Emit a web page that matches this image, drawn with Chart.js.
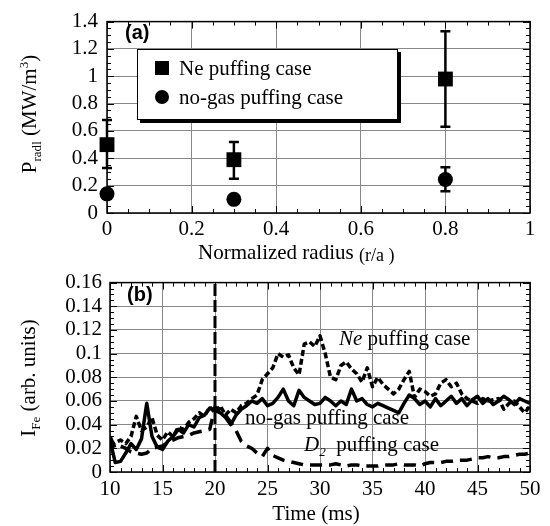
<!DOCTYPE html>
<html>
<head>
<meta charset="utf-8">
<script src="https://cdn.jsdelivr.net/npm/chart.js@4.4.0/dist/chart.umd.min.js"></script>
<style>
  html, body { margin: 0; padding: 0; background: #fff; }
  #wrap { position: relative; width: 550px; height: 526px; overflow: hidden;
          font-family: "Liberation Serif", "Times New Roman", serif; color: #000; }
  canvas { position: absolute; left: 0; }
  .lbl { position: absolute; white-space: nowrap; line-height: 1; font-size: 21px;
         font-family: "Liberation Serif", "Times New Roman", serif; }
  .tag { position: absolute; font-family: "Liberation Sans", Arial, sans-serif;
         font-weight: bold; font-size: 20px; line-height: 1; }
  .ytitle { position: absolute; white-space: nowrap; line-height: 1; font-size: 21px;
            font-family: "Liberation Serif", "Times New Roman", serif;
            transform: translate(-50%, -50%) rotate(-90deg); }
  sub, sup { font-size: 0.62em; line-height: 0; }
  #legend { position: absolute; left: 137px; top: 49px; width: 259px; height: 69px;
            border: 1.5px solid #000; background: #fff; box-shadow: 3px 3px 0 #000; }
  #legend .mk { position: absolute; background: #000; }
</style>
</head>
<body>
<div id="wrap">
  <canvas id="chartA" width="550" height="262" style="top:0"></canvas>
  <canvas id="chartB" width="550" height="264" style="top:262px"></canvas>

  <!-- panel (a) texts -->
  <div class="tag" style="left:125px; top:22px;">(a)</div>
  <div id="legend">
    <div class="mk" style="left:17px; top:11px; width:14px; height:14px;"></div>
    <div class="lbl" style="left:41px; top:8px;">Ne puffing case</div>
    <div class="mk" style="left:17px; top:40px; width:14px; height:14px; border-radius:50%;"></div>
    <div class="lbl" style="left:41px; top:37px;">no-gas puffing case</div>
  </div>
  <div class="ytitle" style="left:29px; top:114px;">P<sub>radl</sub> (MW/m<sup>3</sup>)</div>
  <div class="lbl" style="left:198px; top:242px;">Normalized radius <span style="font-size:18px; position:relative; top:2px;">(r/a )</span></div>

  <!-- panel (b) texts -->
  <div class="tag" style="left:127px; top:284px;">(b)</div>
  <div class="lbl" style="left:339px; top:328px;"><i>Ne</i> puffing case</div>
  <div class="lbl" style="left:245px; top:407px;">no-gas puffing case</div>
  <div class="lbl" style="left:304px; top:434px;"><i>D<sub>2</sub></i>&nbsp; puffing case</div>
  <div class="ytitle" style="left:28px; top:378px;">I<sub>Fe</sub> (arb. units)</div>
  <div class="lbl" style="left:316px; top:503px; transform:translateX(-50%);">Time (ms)</div>
</div>

<script>
// panel (a): radiated power vs normalized radius
const radius = [0, 0.3, 0.8];
const neRad = [0.50, 0.39, 0.98];
const neRadHigh = [0.68, 0.52, 1.33];
const neRadLow = [0.33, 0.25, 0.63];
const noGasRad = [0.14, 0.10, 0.245];
const noGasRadHigh = [null, null, 0.335];
const noGasRadLow = [null, null, 0.16];

// panel (b): Fe line intensity vs time
const timeMs = [
  10, 10.5, 11, 11.5, 12, 12.5, 13, 13.5, 14, 14.5,
  15, 15.5, 16, 16.5, 17, 17.5, 18, 18.5, 19, 19.5,
  20, 20.5, 21, 21.5, 22, 22.5, 23, 23.5, 24, 24.5,
  25, 25.5, 26, 26.5, 27, 27.5, 28, 28.5, 29, 29.5,
  30, 30.5, 31, 31.5, 32, 32.5, 33, 33.5, 34, 34.5,
  35, 35.5, 36, 36.5, 37, 37.5, 38, 38.5, 39, 39.5,
  40, 40.5, 41, 41.5, 42, 42.5, 43, 43.5, 44, 44.5,
  45, 45.5, 46, 46.5, 47, 47.5, 48, 48.5, 49, 49.5,
  50
];
const neFe = [
  0.022, 0.025, 0.027, 0.024, 0.030, 0.047, 0.035, 0.038, 0.046, 0.031,
  0.027, 0.034, 0.030, 0.038, 0.036, 0.042, 0.045, 0.050, 0.047, 0.055,
  0.050, 0.056, 0.048, 0.053, 0.050, 0.056, 0.058, 0.062, 0.065, 0.078,
  0.083, 0.088, 0.100, 0.097, 0.099, 0.088, 0.082, 0.108, 0.110, 0.106,
  0.115, 0.100, 0.080, 0.078, 0.090, 0.093, 0.087, 0.083, 0.076, 0.088,
  0.072, 0.080, 0.074, 0.070, 0.066, 0.070, 0.078, 0.085, 0.063, 0.070,
  0.068, 0.064, 0.066, 0.075, 0.078, 0.072, 0.075, 0.066, 0.062, 0.060,
  0.058, 0.062, 0.060, 0.061, 0.062, 0.053, 0.058, 0.060, 0.055, 0.050,
  0.056
];
const noGasFe = [
  0.027, 0.008, 0.009, 0.016, 0.024, 0.019, 0.028, 0.058, 0.030, 0.021,
  0.019, 0.026, 0.030, 0.036, 0.033, 0.040, 0.038, 0.046, 0.048, 0.054,
  0.052, 0.050, 0.046, 0.040, 0.048, 0.053, 0.056, 0.060, 0.058, 0.062,
  0.056, 0.058, 0.063, 0.070, 0.060, 0.056, 0.069, 0.063, 0.060, 0.057,
  0.058, 0.063, 0.060, 0.056, 0.060, 0.057, 0.070, 0.060, 0.062, 0.057,
  0.055, 0.058, 0.056, 0.054, 0.052, 0.050, 0.058, 0.065, 0.062, 0.057,
  0.060, 0.055, 0.062, 0.056, 0.060, 0.064, 0.058, 0.062, 0.056, 0.061,
  0.064, 0.058, 0.062, 0.057, 0.060, 0.064, 0.061, 0.057, 0.062, 0.060,
  0.058
];
const d2Fe = [
  0.030, 0.020, 0.022, 0.020, 0.017, 0.016, 0.015, 0.016, 0.020, 0.021,
  0.022, 0.025, 0.027, 0.029, 0.030, 0.031, 0.033, 0.034, 0.035, 0.036,
  0.055, 0.052, 0.048, 0.042, 0.035, 0.026, 0.022, 0.020, 0.016, 0.013,
  0.020, 0.014, 0.012, 0.010, 0.009, 0.008, 0.007, 0.006, 0.006, 0.006,
  0.006, 0.006, 0.006, 0.007, 0.006, 0.005, 0.006, 0.006, 0.005, 0.005,
  0.005, 0.005, 0.006, 0.006, 0.006, 0.007, 0.006, 0.006, 0.006, 0.005,
  0.007, 0.008, 0.008, 0.008, 0.009, 0.009, 0.010, 0.010, 0.010, 0.011,
  0.012, 0.012, 0.013, 0.012, 0.012, 0.013, 0.013, 0.014, 0.015, 0.015,
  0.016
];
// gas puff start marker
const puffTime = [20, 20];
const puffLevel = [0, 0.16];

const tickFont = { family: "'Liberation Serif', 'Times New Roman', serif", size: 21 };

// error bars for panel (a)
const errorBars = {
  id: 'errorBars',
  beforeDatasetsDraw(chart) {
    const { ctx, scales: { x, y } } = chart;
    ctx.save();
    ctx.strokeStyle = '#000';
    ctx.lineWidth = 2.5;
    chart.data.datasets.forEach(ds => {
      if (!ds.errHigh) return;
      ds.data.forEach((p, i) => {
        if (ds.errHigh[i] == null) return;
        const px = x.getPixelForValue(p.x);
        const top = y.getPixelForValue(ds.errHigh[i]);
        const bot = y.getPixelForValue(ds.errLow[i]);
        ctx.beginPath();
        ctx.moveTo(px, top); ctx.lineTo(px, bot);
        ctx.moveTo(px - 5, top); ctx.lineTo(px + 5, top);
        ctx.moveTo(px - 5, bot); ctx.lineTo(px + 5, bot);
        ctx.stroke();
      });
    });
    ctx.restore();
  }
};

// box round the plot, with inward major and minor ticks
const frame = {
  id: 'frame',
  afterDraw(chart, args, opts) {
    const { ctx, chartArea: a, scales: { x, y } } = chart;
    ctx.save();
    ctx.strokeStyle = '#000';
    ctx.lineWidth = 1;
    ctx.beginPath();
    const nx = Math.round((x.max - x.min) / opts.minorX);
    for (let i = 0; i <= nx; i++) {
      const px = Math.round(x.getPixelForValue(x.min + i * opts.minorX)) + 0.5;
      const len = i % opts.perMajorX === 0 ? 7 : 4;
      ctx.moveTo(px, a.bottom); ctx.lineTo(px, a.bottom - len);
      ctx.moveTo(px, a.top); ctx.lineTo(px, a.top + len);
    }
    const ny = Math.round((y.max - y.min) / opts.minorY);
    for (let i = 0; i <= ny; i++) {
      const py = Math.round(y.getPixelForValue(y.min + i * opts.minorY)) + 0.5;
      const len = i % opts.perMajorY === 0 ? 7 : 4;
      ctx.moveTo(a.left, py); ctx.lineTo(a.left + len, py);
      ctx.moveTo(a.right, py); ctx.lineTo(a.right - len, py);
    }
    ctx.stroke();
    ctx.lineWidth = 1.5;
    ctx.strokeRect(a.left, a.top, a.right - a.left, a.bottom - a.top);
    ctx.restore();
  }
};

function fmt(v) {
  return String(Math.round(v * 1000) / 1000);
}

function axis(min, max, step, pad, fit) {
  return {
    type: 'linear', min: min, max: max,
    ticks: { stepSize: step, font: tickFont, color: '#000', padding: pad,
             maxRotation: 0, autoSkip: false, callback: fmt },
    grid: { color: '#888', lineWidth: 1, drawTicks: false },
    border: { display: false },
    afterFit: fit
  };
}

// panel (a)
new Chart(document.getElementById('chartA'), {
  type: 'scatter',
  data: {
    datasets: [
      {
        label: 'Ne puffing case',
        data: radius.map((r, i) => ({ x: r, y: neRad[i] })),
        errHigh: neRadHigh, errLow: neRadLow,
        pointStyle: 'rect', pointRadius: 10.5,
        backgroundColor: '#000', borderColor: '#000', borderWidth: 0,
        clip: false
      },
      {
        label: 'no-gas puffing case',
        data: radius.map((r, i) => ({ x: r, y: noGasRad[i] })),
        errHigh: noGasRadHigh, errLow: noGasRadLow,
        pointStyle: 'circle', pointRadius: 7.5,
        backgroundColor: '#000', borderColor: '#000', borderWidth: 0,
        clip: false
      }
    ]
  },
  options: {
    responsive: false, animation: false, events: [],
    layout: { padding: { top: 15, right: 20, left: 0, bottom: 0 } },
    plugins: {
      legend: { display: false }, tooltip: { enabled: false },
      frame: { minorX: 0.05, perMajorX: 4, minorY: 0.05, perMajorY: 4 }
    },
    scales: {
      x: axis(0, 1, 0.2, 4, s => { s.height = 49; }),
      y: axis(0, 1.4, 0.2, 9, s => { s.width = 107; })
    }
  },
  plugins: [errorBars, frame]
});

// panel (b)
function series(ys) {
  return timeMs.map((t, i) => ({ x: t, y: ys[i] }));
}

new Chart(document.getElementById('chartB'), {
  type: 'line',
  data: {
    datasets: [
      { label: 'no-gas puffing case', data: series(noGasFe), borderColor: '#000', borderWidth: 3.5 },
      { label: 'Ne puffing case', data: series(neFe), borderColor: '#000', borderWidth: 3.5, borderDash: [6, 3] },
      { label: 'D2 puffing case', data: series(d2Fe), borderColor: '#000', borderWidth: 3.5, borderDash: [12, 7] },
      { label: 'puff', data: puffTime.map((t, i) => ({ x: t, y: puffLevel[i] })),
        borderColor: '#000', borderWidth: 3, borderDash: [12, 4] }
    ]
  },
  options: {
    responsive: false, animation: false, events: [],
    layout: { padding: { top: 13, right: 20, left: 0, bottom: 0 } },
    elements: { point: { radius: 0 }, line: { tension: 0, borderJoinStyle: 'round' } },
    plugins: {
      legend: { display: false }, tooltip: { enabled: false },
      frame: { minorX: 1, perMajorX: 5, minorY: 0.005, perMajorY: 4 }
    },
    scales: {
      x: axis(10, 50, 5, 5, s => { s.height = 54; }),
      y: axis(0, 0.16, 0.02, 8, s => { s.width = 110; })
    }
  },
  plugins: [frame]
});
</script>
</body>
</html>
